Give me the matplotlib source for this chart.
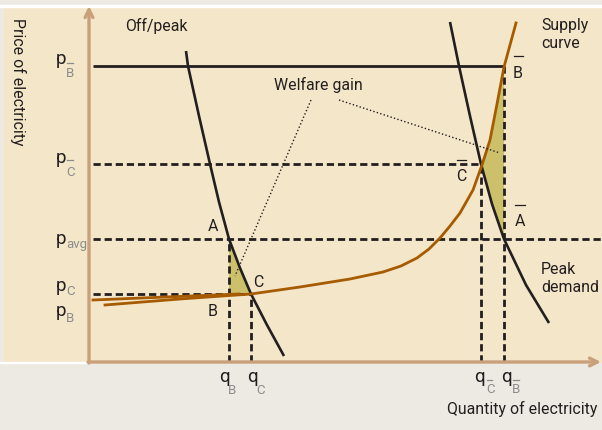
import matplotlib
matplotlib.use("Agg")
import matplotlib.pyplot as plt
from matplotlib.patches import Rectangle, Polygon
from matplotlib.lines import Line2D
import numpy as np

W, H = 602, 430
FONT = ["Roboto", "DejaVu Sans"]
plt.rcParams["font.family"] = FONT

# price / quantity levels, in chart units (origin at the axes corner)
p_bbar, p_cbar, p_avg, p_c, p_b = 296, 198, 123, 68, 62
q_b, q_c, q_cbar, q_bbar = 140, 162, 392, 415

# off-peak demand
offpeak_q = [97, 99, 110, 121, 130, 140, 151, 162, 178, 195]
offpeak_p = [311, 296, 246, 198, 160, 123, 94, 68, 37, 6]
# peak demand
peak_q = [361, 370, 381, 392, 403, 415, 437, 460]
peak_p = [340, 296, 246, 198, 158, 123, 77, 39]
# supply curve
supply_q = [16, 91, 162, 211, 261, 294, 312, 328, 340, 351, 361, 371, 384, 393,
            401, 408, 415, 427]
supply_p = [57, 63, 68, 75, 83, 90, 96, 104, 113, 124, 136, 149, 172, 197,
            222, 258, 295, 339]
# flat lower price line
base_q = [4, 150]
base_p = [62, 68]

DARK = "#231f20"
BROWN = "#a65b00"
AXIS = "#c9a07a"
SHADE = "#cdc06a"
BEIGE = "#f4e6c8"
GREY = "#ede9e3"
SUBGREY = "#8c8c8c"

fig = plt.figure(figsize=(W / 100, H / 100), dpi=100)
fig.patch.set_facecolor(GREY)


def fx(x):
    return x / W


def fy(y):
    return 1 - y / H


# background panels
fig.patches.append(Rectangle((fx(4), fy(362)), 1, (362 - 7) / H, color=BEIGE,
                             transform=fig.transFigure, zorder=-10))
fig.patches.append(Rectangle((0, fy(7)), 1, 2 / H, color="white",
                             transform=fig.transFigure, zorder=-10))
fig.patches.append(Rectangle((0, fy(363)), fx(88), 1.5 / H, color="white",
                             transform=fig.transFigure, zorder=-10))

ax = fig.add_axes([fx(89), fy(362), (W - 89) / W, (362 - 8) / H])
ax.set_zorder(5)
ax.set_xlim(0, 513)
ax.set_ylim(0, 354)
ax.axis("off")
ax.patch.set_alpha(0)

dash = (0, (2.6, 1.4))
lw_d = 2.0

# shaded welfare areas
ax.add_patch(Polygon([(q_b, p_avg), (q_c, p_c), (q_b, p_c)], closed=True,
                     facecolor=SHADE, edgecolor="none", zorder=1))
sq, sp = np.array(supply_q), np.array(supply_p)
dq, dp = np.array(peak_q), np.array(peak_p)
ms = (sq >= q_cbar) & (sq <= q_bbar)
md = (dq >= q_cbar) & (dq <= q_bbar)
right = list(zip(sq[ms][::-1], sp[ms][::-1])) + list(zip(dq[md], dp[md]))
ax.add_patch(Polygon(right, closed=True, facecolor=SHADE, edgecolor="none", zorder=1))

# price lines
ax.hlines(p_bbar, 4, q_bbar, color=DARK, lw=2.0, zorder=2)
ax.hlines(p_cbar, 4, q_cbar, color=DARK, lw=lw_d, linestyle=dash, zorder=2)
ax.hlines(p_avg, 4, 513, color=DARK, lw=lw_d, linestyle=dash, zorder=2)
ax.hlines(p_c, 4, q_c, color=DARK, lw=lw_d, linestyle=dash, zorder=2)
# quantity lines
ax.vlines(q_b, 0, p_avg, color=DARK, lw=lw_d, linestyle=dash, zorder=2)
ax.vlines(q_c, 0, p_c, color=DARK, lw=lw_d, linestyle=dash, zorder=2)
ax.vlines(q_cbar, 0, p_cbar, color=DARK, lw=lw_d, linestyle=dash, zorder=2)
ax.vlines(q_bbar, 0, p_bbar, color=DARK, lw=lw_d, linestyle=dash, zorder=2)

# curves
ax.plot(offpeak_q, offpeak_p, color=DARK, lw=1.9, solid_capstyle="butt", zorder=3)
ax.plot(peak_q, peak_p, color=DARK, lw=1.9, solid_capstyle="butt", zorder=3)
ax.plot(base_q, base_p, color=BROWN, lw=2.0, zorder=3)
ax.plot(supply_q, supply_p, color=BROWN, lw=2.0, zorder=3)

# welfare gain pointers
dot = (0, (1, 1.6))
ax.plot([222, 146], [262, 86], color=DARK, lw=1.0, linestyle=dot, zorder=3)
ax.plot([250, 411], [262, 209], color=DARK, lw=1.0, linestyle=dot, zorder=3)

# axes with arrows
ax.annotate("", xy=(0, 356), xytext=(0, -1), annotation_clip=False,
            arrowprops=dict(arrowstyle="->", color=AXIS, lw=2.4, shrinkA=0, shrinkB=0,
                            mutation_scale=14))
ax.annotate("", xy=(512, 0), xytext=(-1, 0), annotation_clip=False,
            arrowprops=dict(arrowstyle="->", color=AXIS, lw=2.4, shrinkA=0, shrinkB=0,
                            mutation_scale=14))


def ftext(x, y, s, size=11.4, color=DARK, **kw):
    fig.text(fx(x), fy(y), s, fontsize=size, color=color, **kw)


def bar(x0, x1, y, color=SUBGREY):
    fig.lines.append(Line2D([fx(x0), fx(x1)], [fy(y), fy(y)], color=color, lw=0.9,
                            transform=fig.transFigure))


def sub_label(x, base, main, sub, sub_base, sub_dx, has_bar=False, bar_y=None):
    ftext(x, base, main, size=13.5, ha="left", va="baseline")
    ftext(x + sub_dx, sub_base, sub, size=9.5, color=SUBGREY, ha="left", va="baseline")
    if has_bar:
        bar(x + sub_dx + 0.5, x + sub_dx + 6.5, bar_y)


def py(level):
    return 362 - level


# price labels
sub_label(56, py(p_bbar) - 2, "p", "B", 77, 10, True, 63)
sub_label(56, py(p_cbar) - 1, "p", "C", 176, 10, True, 160)
sub_label(56, 244, "p", "avg", 248, 10)
sub_label(56, 291, "p", "C", 295, 10)
sub_label(56, 316, "p", "B", 322, 10)

# quantity labels
sub_label(219, 382, "q", "B", 394, 9)
sub_label(247, 382, "q", "C", 394, 9)
sub_label(474, 382, "q", "C", 393, 12, True, 380)
sub_label(501, 382, "q", "B", 393, 11, True, 380)

# point labels
ftext(213, 231, "A", size=11.5, ha="center", va="baseline")
ftext(258, 287, "C", size=11.5, ha="center", va="baseline")
ftext(213, 316, "B", size=11.5, ha="center", va="baseline")
ftext(518, 78, "B", size=11.5, ha="center", va="baseline")
bar(514, 523, 56, DARK)
ftext(461, 181, "C", size=11.5, ha="center", va="baseline")
bar(457, 466, 160, DARK)
ftext(520, 226, "A", size=11.5, ha="center", va="baseline")
bar(515, 525, 205, DARK)

# annotations
ftext(125, 31, "Off/peak", ha="left", va="baseline")
ftext(541, 30, "Supply", ha="left", va="baseline")
ftext(541, 48, "curve", ha="left", va="baseline")
ftext(541, 274, "Peak", ha="left", va="baseline")
ftext(541, 292, "demand", ha="left", va="baseline")
ftext(318, 90, "Welfare gain", ha="center", va="baseline")
ftext(597, 414, "Quantity of electricity", ha="right", va="baseline")
ftext(18, 82, "Price of electricity", rotation=-90, ha="center", va="center")

fig.savefig("out.png", dpi=100, facecolor=fig.get_facecolor())
